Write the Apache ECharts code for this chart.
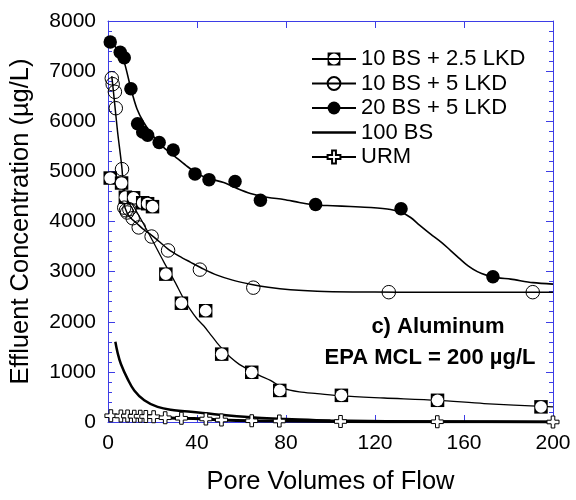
<!DOCTYPE html>
<html>
<head>
<meta charset="utf-8">
<script src="https://cdn.jsdelivr.net/npm/echarts@6/dist/echarts.min.js"></script>
<style>html,body{margin:0;padding:0;background:#fff;}#chart{width:576px;height:500px;}</style>
</head>
<body>
<div id="chart"></div>
<script>
// ---- Data ----
var seriesNames = ['10 BS + 2.5 LKD', '10 BS + 5 LKD', '20 BS + 5 LKD', '100 BS', 'URM'];
var xTicks = [0, 40, 80, 120, 160, 200];
var yTicks = [0, 1000, 2000, 3000, 4000, 5000, 6000, 7000, 8000];

// 10 BS + 2.5 LKD (squares)
var sq_x = [1, 6.1, 7.8, 11.5, 15.6, 17.8, 20, 26, 33, 43.9, 51.1, 64.6, 77.2, 104.9, 148.1, 194.6];
var sq_y = [4867, 4768, 4485, 4473, 4374, 4355, 4296, 2950, 2370, 2220, 1354, 992, 630, 532, 433, 302];
var sqFit_x = [1, 6, 8, 11, 15, 20, 25, 30, 34, 37, 40, 43, 46, 49, 52, 55, 59, 63, 68, 73, 79, 86, 94, 105, 124, 148, 169, 200];
var sqFit_y = [4870, 4770, 4560, 4340, 4030, 3620, 3200, 2800, 2460, 2240, 2060, 1920, 1750, 1580, 1430, 1290, 1150, 1050, 930, 830, 670, 600, 566, 520, 479, 433, 368, 300];

// 10 BS + 5 LKD (open circles)
var oc_x = [1.7, 2.1, 3.1, 3.5, 6.3, 7.3, 8.1, 8.6, 9.6, 11.1, 13.8, 19.6, 27, 41.3, 65.3, 126.2, 190.9];
var oc_y = [6857, 6740, 6587, 6260, 5044, 4276, 4223, 4180, 4243, 4065, 3882, 3700, 3423, 3040, 2680, 2590, 2590];
var ocFit_x = [1.7, 2.8, 4.3, 6.3, 7.3, 8.5, 10, 13, 16, 19.5, 23, 27, 32, 37, 43, 49, 56, 64, 72, 82, 94, 110, 130, 160, 200];
var ocFit_y = [6900, 6440, 5790, 5044, 4340, 4180, 4080, 3960, 3840, 3730, 3600, 3450, 3310, 3190, 3050, 2930, 2830, 2750, 2690, 2640, 2610, 2595, 2590, 2590, 2590];

// 20 BS + 5 LKD (filled circles)
var fc_x = [1, 5.5, 7.3, 10.3, 13.3, 15.6, 17.8, 23, 29.3, 39.1, 45.4, 57.1, 68.5, 93.3, 131.7, 173];
var fc_y = [7580, 7375, 7265, 6650, 5950, 5785, 5720, 5576, 5425, 4950, 4835, 4800, 4425, 4341, 4256, 2897];
var fcFit_x = [1, 5.5, 7.5, 10.3, 13, 16, 20, 25, 30, 35, 40, 45, 52, 58, 64, 72, 79, 86, 93, 101, 109, 118, 127, 132, 136, 140, 145, 150, 154, 158, 162, 166, 170, 175, 181, 191, 200];
var fcFit_y = [7580, 7375, 7150, 6650, 6250, 5980, 5720, 5480, 5300, 5120, 4960, 4860, 4780, 4660, 4560, 4480, 4440, 4380, 4330, 4315, 4300, 4280, 4240, 4180, 4080, 3930, 3750, 3580, 3420, 3260, 3110, 3000, 2930, 2880, 2850, 2780, 2750];

// 100 BS (line only)
var bs_x = [3.3, 4.3, 5.8, 8.8, 11.8, 16.3, 22.3, 29.7, 37.2, 52.2, 67.1, 80, 100, 150, 200];
var bs_y = [1600, 1385, 1157, 860, 630, 433, 301, 236, 203, 138, 85, 60, 30, 10, 0];

// URM (plus markers)
var urm_x = [1.3, 5.8, 8.8, 11.8, 14.5, 17, 20.5, 25.7, 33, 44, 51, 64.6, 77, 104.5, 148, 200];
var urm_y = [125, 120, 120, 115, 115, 110, 105, 85, 75, 60, 40, 25, 20, 10, 5, 0];

function pairs(xs, ys) { return xs.map(function (x, i) { return [x, ys[i]]; }); }

var FONT = 'Liberation Sans, Arial, sans-serif';
var AXIS_BLUE = '#3d3de6';
var squareHole = 'path://M0,0H20V20H0Z M10,1.6A8.4,8.4,0,0,0,10,18.4A8.4,8.4,0,0,0,10,1.6Z';
var plusPath = 'path://M7,0H13V7H20V13H13V20H7V13H0V7H7Z';

var chart = echarts.init(document.getElementById('chart'), null, {renderer: 'canvas'});

function baseAxis(extra) {
  var a = {
    type: 'value',
    axisLine: {show: true, onZero: false, lineStyle: {color: AXIS_BLUE, width: 1}},
    axisTick: {show: true, inside: true, length: 7, lineStyle: {color: AXIS_BLUE, width: 1}},
    splitLine: {show: false},
    axisLabel: {color: '#000', fontFamily: FONT, fontSize: 21}
  };
  for (var k in extra) a[k] = extra[k];
  return a;
}

var option = {
  animation: false,
  backgroundColor: '#fff',
  grid: {left: 107, right: 23, top: 21, bottom: 73, containLabel: false},
  xAxis: [
    baseAxis({position: 'bottom', min: 0, max: 200, interval: 40,
      name: 'Pore Volumes of Flow', nameLocation: 'middle', nameGap: 47,
      nameTextStyle: {color: '#000', fontFamily: FONT, fontSize: 25.5},
      axisLabel: {color: '#000', fontFamily: FONT, fontSize: 21, margin: 11,
        formatter: function (v) { return xTicks.indexOf(v) >= 0 ? String(v) : ''; }}}),
    baseAxis({position: 'top', min: 0, max: 200, interval: 40, axisLabel: {show: false}})
  ],
  yAxis: [
    baseAxis({position: 'left', min: 0, max: 8000, interval: 1000,
      name: 'Effluent Concentration (\u00b5g/L)', nameLocation: 'middle', nameGap: 74,
      nameTextStyle: {color: '#000', fontFamily: FONT, fontSize: 25.5},
      minorTick: {show: true, splitNumber: 5, length: 4, lineStyle: {color: AXIS_BLUE, width: 1}},
      axisLabel: {color: '#000', fontFamily: FONT, fontSize: 21, margin: 12,
        formatter: function (v) { return yTicks.indexOf(v) >= 0 ? String(v) : ''; }}}),
    baseAxis({position: 'right', min: 0, max: 8000, interval: 1000, axisLabel: {show: false},
      minorTick: {show: true, splitNumber: 5, length: 4, lineStyle: {color: AXIS_BLUE, width: 1}}})
  ],
  legend: {
    orient: 'vertical', left: 311, top: 48, padding: 0,
    itemWidth: 44, itemHeight: 16, itemGap: 2.5,
    textStyle: {color: '#000', fontFamily: FONT, fontSize: 22},
    data: [
      {name: seriesNames[0]},
      {name: seriesNames[1]},
      {name: seriesNames[2]},
      {name: seriesNames[3], icon: 'path://M0,0H44V2.4H0Z'},
      {name: seriesNames[4]}
    ]
  },
  graphic: [
    {type: 'text', position: [438, 327], style: {text: 'c) Aluminum', font: 'bold 22px ' + FONT, fill: '#000', textAlign: 'center', textVerticalAlign: 'middle'}},
    {type: 'text', position: [430, 358], style: {text: 'EPA MCL = 200 \u00b5g/L', font: 'bold 22px ' + FONT, fill: '#000', textAlign: 'center', textVerticalAlign: 'middle'}}
  ],
  series: [
    // fit curves (first, so legend uses them)
    {name: seriesNames[0], type: 'line', smooth: 0.3, showSymbol: false, symbol: squareHole, z: 2,
      data: pairs(sqFit_x, sqFit_y), lineStyle: {color: '#000', width: 1.3},
      itemStyle: {color: '#000', borderWidth: 0}},
    {name: seriesNames[1], type: 'line', smooth: 0.3, showSymbol: false, symbol: 'circle', z: 2,
      data: pairs(ocFit_x, ocFit_y), lineStyle: {color: '#000', width: 1.5},
      itemStyle: {color: 'rgba(255,255,255,0)', borderColor: '#000', borderWidth: 1}},
    {name: seriesNames[2], type: 'line', smooth: 0.3, showSymbol: false, symbol: 'circle', z: 2,
      data: pairs(fcFit_x, fcFit_y), lineStyle: {color: '#000', width: 1.6},
      itemStyle: {color: '#000', borderWidth: 0}},
    {name: seriesNames[3], type: 'line', smooth: 0.4, showSymbol: false, symbol: 'none', z: 2,
      data: pairs(bs_x, bs_y), lineStyle: {color: '#000', width: 2.5},
      itemStyle: {color: '#000'}},
    {name: seriesNames[4], type: 'line', smooth: 0.2, showSymbol: false, symbol: plusPath, z: 3,
      data: pairs(urm_x, urm_y), lineStyle: {color: '#000', width: 3},
      itemStyle: {color: '#fff', borderColor: '#000', borderWidth: 1}},
    // markers
    {name: seriesNames[0], type: 'custom', z: 5, data: pairs(sq_x, sq_y),
      renderItem: function (params, api) {
        var p = api.coord([api.value(0), api.value(1)]);
        var s = 13.5;
        return {type: 'group', children: [
          {type: 'rect', shape: {x: p[0] - s / 2, y: p[1] - s / 2, width: s, height: s}, style: {fill: '#000'}},
          {type: 'circle', shape: {cx: p[0], cy: p[1], r: s / 2 - 0.9}, style: {fill: '#fff'}}
        ]};
      }},
    {name: seriesNames[1], type: 'scatter', z: 5, symbol: 'circle', symbolSize: 13.5, data: pairs(oc_x, oc_y),
      itemStyle: {color: 'rgba(255,255,255,0)', borderColor: '#000', borderWidth: 1, opacity: 1}},
    {name: seriesNames[2], type: 'scatter', z: 5, symbol: 'circle', symbolSize: 13.5, data: pairs(fc_x, fc_y),
      itemStyle: {color: '#000', borderWidth: 0, opacity: 1}},
    {name: seriesNames[4], type: 'scatter', z: 6, symbol: plusPath, symbolSize: 12, data: pairs(urm_x, urm_y),
      itemStyle: {color: '#fff', borderColor: '#000', borderWidth: 1, opacity: 1}}
  ]
};
chart.setOption(option);
</script>
</body>
</html>
